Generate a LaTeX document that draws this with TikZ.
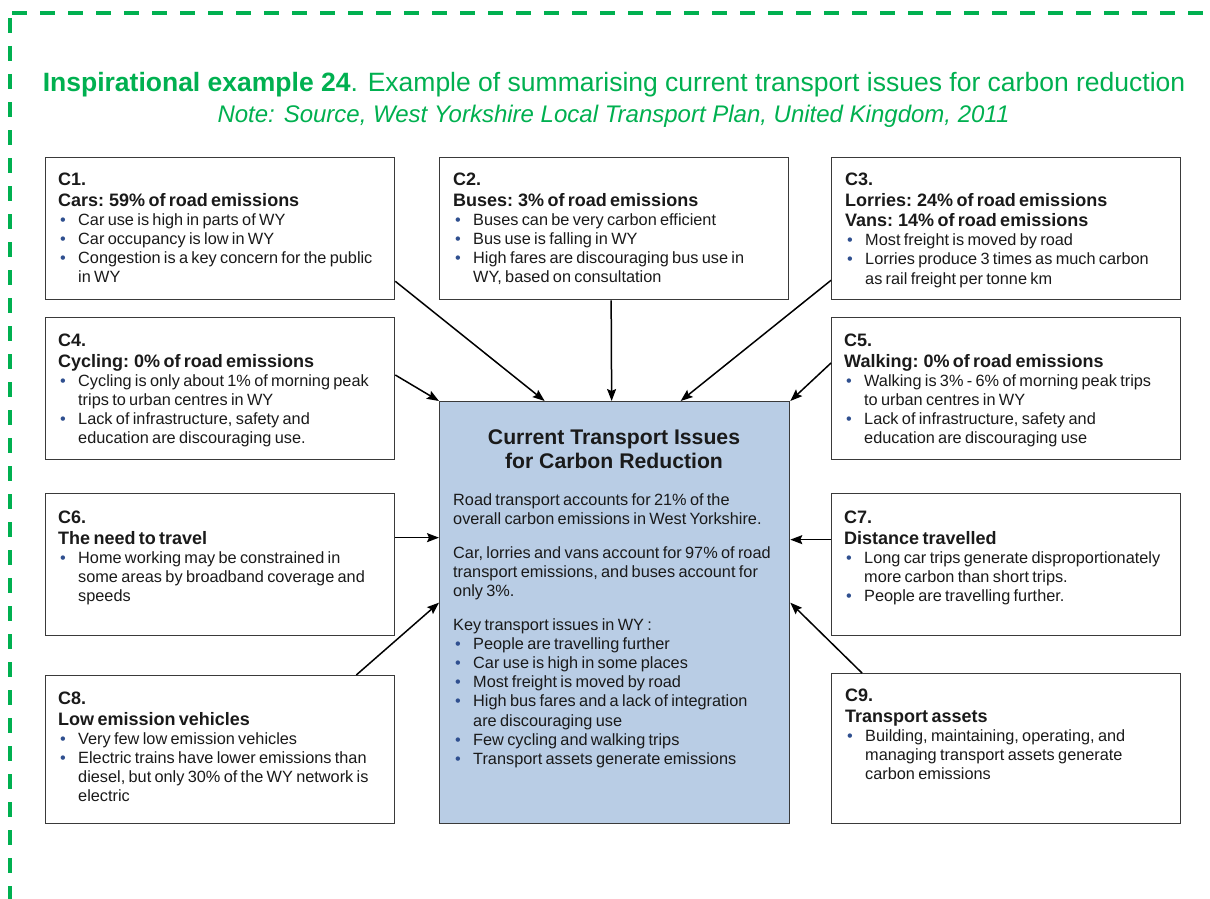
\documentclass[tikz,border=0pt]{standalone}
\usepackage{fontspec}
\setmainfont{Liberation Sans}
\usetikzlibrary{arrows.meta,calc}
\definecolor{grn}{HTML}{00B050}
\definecolor{ctrfill}{HTML}{B9CDE5}
\definecolor{boxline}{HTML}{3A3A3A}
\definecolor{bulc}{HTML}{2F4F8F}
\definecolor{txtc}{HTML}{1A1A1A}
\newcommand\hd[1]{{\fontsize{18}{20.5}\selectfont\bfseries\noindent #1\par}}
\newcommand\bl[1]{{\fontsize{16.3}{19.1}\selectfont\hangindent=20pt\hangafter=1\noindent\makebox[20pt][l]{\hspace{2pt}\textcolor{bulc}{\textbullet}}#1\par}}
\newcommand\pl[1]{{\fontsize{16.3}{19.1}\selectfont\noindent #1\par}}
\begin{document}
\begin{tikzpicture}[x=1pt,y=-1pt,
  box/.style={draw=boxline, line width=1.3pt, fill=white, inner sep=0pt, anchor=north west, minimum width=349pt, minimum height=142pt},
  txt/.style={anchor=north west, inner sep=0pt, text width=340pt, align=left, text=txtc},
  arr/.style={draw=black, line width=1.5pt, -{Stealth[length=12pt,width=9pt,inset=2pt]}},
  border/.style={draw=grn, line width=3.5pt, dash pattern=on 15pt off 13pt}]
\useasboundingbox (0,0) rectangle (1210,899);
\fill[white] (0,0) rectangle (1210,899);
% dashed frame
\coordinate (fa) at (12,13);
\coordinate (fb) at (1210,13);
\coordinate (fc) at (10,18);
\coordinate (fd) at (10,899);
\draw[border] (fa) -- (fb);
\draw[border] (fc) -- (fd);
% title
\node[anchor=base, inner sep=0pt, text=grn, font=\fontsize{26.5}{30}\selectfont] (title) at (614,92) {\textbf{Inspirational example 24}. Example of summarising current transport issues for carbon reduction};
\node[anchor=base, inner sep=0pt, text=grn, font=\fontsize{24}{28}\selectfont\itshape] (sub) at (613.5,122) {Note: Source, West Yorkshire Local Transport Plan, United Kingdom, 2011};
% boxes
\node[box] (c1) at (45,157) {};
\node[box] (c2) at (439,157) {};
\node[box] (c3) at (831,157) {};
\node[box] (c4) at (45,317) {};
\node[box] (c5) at (831,317) {};
\node[box] (c6) at (45,493) {};
\node[box] (c7) at (831,493) {};
\node[box, minimum height=148pt] (c8) at (45,675) {};
\node[box, minimum height=150pt] (c9) at (831,673) {};
\node[box, fill=ctrfill, minimum width=350pt, minimum height=422pt] (ctr) at (439,401) {};
% texts
\node[txt] (t1) at (58,173) {\hd{C1.}\hd{Cars: 59\% of road emissions}\bl{Car use is high in parts of WY}\bl{Car occupancy is low in WY}\bl{Congestion is a key concern for the public\newline in WY}};
\node[txt] (t2) at (453,173) {\hd{C2.}\hd{Buses: 3\% of road emissions}\bl{Buses can be very carbon efficient}\bl{Bus use is falling in WY}\bl{High fares are discouraging bus use in\newline WY, based on consultation}};
\node[txt] (t3) at (845,173) {\hd{C3.}\hd{Lorries: 24\% of road emissions}\hd{Vans: 14\% of road emissions}\bl{Most freight is moved by road}\bl{Lorries produce 3 times as much carbon\newline as rail freight per tonne km}};
\node[txt] (t4) at (58,334) {\hd{C4.}\hd{Cycling: 0\% of road emissions}\bl{Cycling is only about 1\% of morning peak\newline trips to urban centres in WY}\bl{Lack of infrastructure, safety and\newline education are discouraging use.}};
\node[txt] (t5) at (844,334) {\hd{C5.}\hd{Walking: 0\% of road emissions}\bl{Walking is 3\% - 6\% of morning peak trips\newline to urban centres in WY}\bl{Lack of infrastructure, safety and\newline education are discouraging use}};
\node[txt] (t6) at (58,511) {\hd{C6.}\hd{The need to travel}\bl{Home working may be constrained in\newline some areas by broadband coverage and\newline speeds}};
\node[txt] (t7) at (844,511) {\hd{C7.}\hd{Distance travelled}\bl{Long car trips generate disproportionately\newline more carbon than short trips.}\bl{People are travelling further.}};
\node[txt] (t8) at (58,692) {\hd{C8.}\hd{Low emission vehicles}\bl{Very few low emission vehicles}\bl{Electric trains have lower emissions than\newline diesel, but only 30\% of the WY network is\newline electric}};
\node[txt] (t9) at (845,689) {\hd{C9.}\hd{Transport assets}\bl{Building, maintaining, operating, and\newline managing transport assets generate\newline carbon emissions}};
\node[inner sep=0pt, align=center, text=txtc, font=\fontsize{21.2}{24.5}\selectfont\bfseries] (ctitle) at (614,449) {Current Transport Issues\\for Carbon Reduction};
\node[txt] (tc) at (453,493) {\pl{Road transport accounts for 21\% of the\newline overall carbon emissions in West Yorkshire.}\vspace{15pt}\pl{Car, lorries and vans account for 97\% of road\newline transport emissions, and buses account for\newline only 3\%.}\vspace{15pt}\pl{Key transport issues in WY :}\bl{People are travelling further}\bl{Car use is high in some places}\bl{Most freight is moved by road}\bl{High bus fares and a lack of integration\newline are discouraging use}\bl{Few cycling and walking trips}\bl{Transport assets generate emissions}};
% arrows
\draw[arr] ([yshift=19pt]c1.south east) -- ([xshift=-70pt]ctr.north);
\draw[arr] ([xshift=-3pt]c2.south) -- ([xshift=-3pt]ctr.north);
\draw[arr] ([yshift=20pt]c3.south west) -- ([xshift=66pt]ctr.north);
\draw[arr] ([yshift=-58pt]c4.north east) -- (ctr.north west);
\draw[arr] ([yshift=-46pt]c5.north west) -- (ctr.north east);
\draw[arr] ([yshift=27pt]c6.east) -- ([yshift=27pt]c6.east -| ctr.west);
\draw[arr] ([yshift=25pt]c7.west) -- ([yshift=25pt]c7.west -| ctr.east);
\draw[arr] ([xshift=-39pt]c8.north east) -- ([yshift=10pt]ctr.west);
\draw[arr] ([xshift=31pt]c9.north west) -- ([yshift=10pt]ctr.east);
\end{tikzpicture}
\end{document}
